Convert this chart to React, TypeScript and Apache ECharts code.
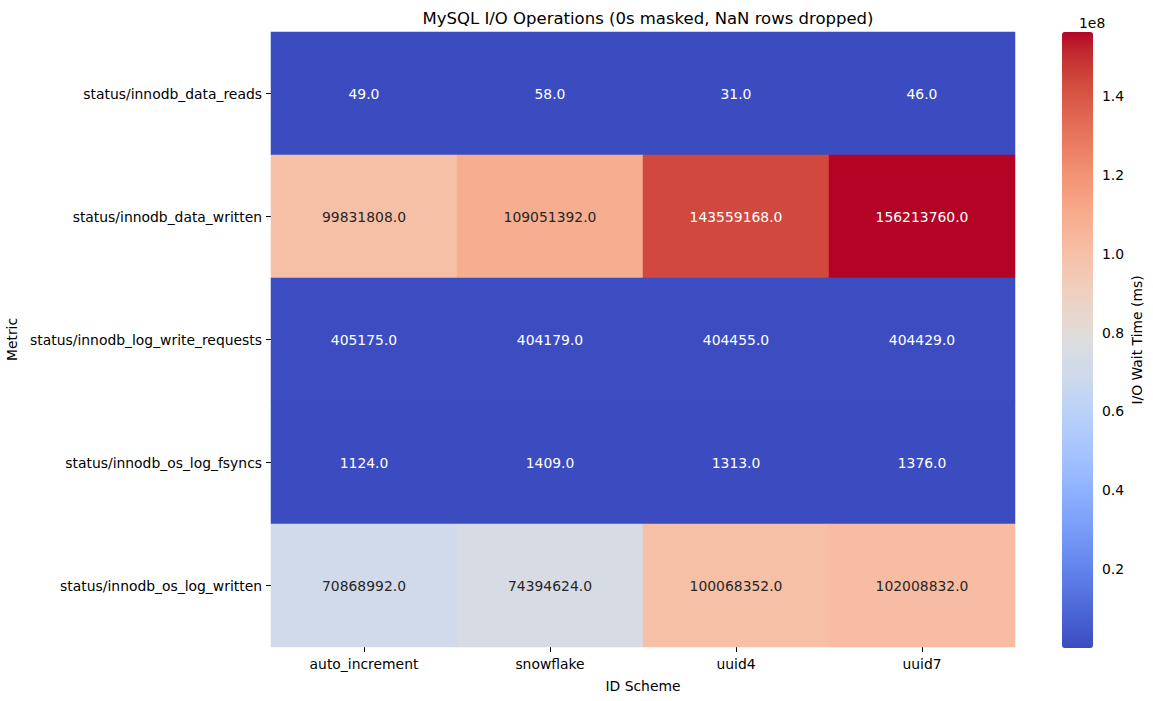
import React, { useEffect, useRef } from "react";
import * as echarts from "echarts";

const schemes = ["auto_increment", "snowflake", "uuid4", "uuid7"];
const metrics = [
  "status/innodb_data_reads",
  "status/innodb_data_written",
  "status/innodb_log_write_requests",
  "status/innodb_os_log_fsyncs",
  "status/innodb_os_log_written",
];
const dataReads = [49, 58, 31, 46];
const dataWritten = [99831808, 109051392, 143559168, 156213760];
const logWriteRequests = [405175, 404179, 404455, 404429];
const osLogFsyncs = [1124, 1409, 1313, 1376];
const osLogWritten = [70868992, 74394624, 100068352, 102008832];
const rows = [dataReads, dataWritten, logWriteRequests, osLogFsyncs, osLogWritten];
const colorbarTicks = [0.2, 0.4, 0.6, 0.8, 1.0, 1.2, 1.4];

const coolwarm = [
  [59, 76, 192], [68, 90, 204], [77, 104, 215], [87, 117, 225], [98, 130, 234],
  [108, 142, 241], [119, 154, 247], [130, 165, 251], [141, 176, 254], [152, 185, 255],
  [163, 194, 255], [174, 201, 253], [184, 208, 249], [194, 213, 244], [204, 217, 238],
  [213, 219, 230], [221, 221, 221], [229, 216, 209], [236, 211, 197], [241, 204, 185],
  [245, 196, 173], [247, 187, 160], [247, 177, 148], [247, 166, 135], [244, 154, 123],
  [241, 141, 111], [236, 127, 99], [229, 112, 88], [222, 96, 77], [213, 80, 66],
  [203, 62, 56], [192, 40, 47], [180, 4, 38],
];

const FONT = "DejaVu Sans";

export default function App() {
  const ref = useRef<HTMLDivElement>(null);
  useEffect(() => {
    if (!ref.current) return;
    const chart = echarts.init(ref.current, null, { renderer: "svg" });
    const all = rows.flat();
    const vmin = Math.min(...all);
    const vmax = Math.max(...all);

    const sample = (v: number) => {
      const t = (v - vmin) / (vmax - vmin);
      const p = t * (coolwarm.length - 1);
      const i = Math.min(Math.floor(p), coolwarm.length - 2);
      const f = p - i;
      return coolwarm[i].map((c, k) => c + (coolwarm[i + 1][k] - c) * f);
    };
    const lum = (rgb: number[]) => {
      const lin = rgb.map((c) => {
        const s = c / 255;
        return s <= 0.03928 ? s / 12.92 : Math.pow((s + 0.055) / 1.055, 2.4);
      });
      return 0.2126 * lin[0] + 0.7152 * lin[1] + 0.0722 * lin[2];
    };

    const data: any[] = [];
    rows.forEach((r, yi) =>
      r.forEach((v, xi) => {
        const light = lum(sample(v)) > 0.408;
        data.push({
          value: [xi, yi, v],
          label: { color: light ? "#262626" : "#ffffff" },
        });
      })
    );

    chart.setOption({
      animation: false,
      backgroundColor: "#ffffff",
      textStyle: { fontFamily: FONT },
      title: {
        text: "MySQL I/O Operations (0s masked, NaN rows dropped)",
        left: 643,
        textAlign: "center",
        top: 5,
        textStyle: { fontFamily: FONT, fontSize: 16.5, fontWeight: "normal", color: "#000" },
      },
      grid: [
        { left: 271, top: 32, width: 744, height: 615, outerBoundsMode: "none", containLabel: false },
        { left: 1062, top: 32, width: 31, height: 616, outerBoundsMode: "none", containLabel: false },
      ],
      xAxis: [
        {
          type: "category",
          gridIndex: 0,
          data: schemes,
          name: "ID Scheme",
          nameLocation: "middle",
          nameGap: 32,
          nameTextStyle: { fontFamily: FONT, fontSize: 13.9, color: "#000" },
          axisLine: { show: false },
          axisTick: { show: true, alignWithLabel: true, length: 5, lineStyle: { color: "#000", width: 1 } },
          axisLabel: { fontFamily: FONT, fontSize: 13.9, color: "#000", margin: 10 },
          splitLine: { show: false },
        },
        { type: "value", gridIndex: 1, show: false, min: 0, max: 1 },
      ],
      yAxis: [
        {
          type: "category",
          gridIndex: 0,
          data: metrics,
          inverse: true,
          name: "Metric",
          nameLocation: "middle",
          nameGap: 247,
          nameRotate: 90,
          nameTextStyle: { fontFamily: FONT, fontSize: 13.9, color: "#000" },
          axisLine: { show: false },
          axisTick: { show: true, alignWithLabel: true, length: 5, lineStyle: { color: "#000", width: 1 } },
          axisLabel: { fontFamily: FONT, fontSize: 13.9, color: "#000", margin: 9 },
          splitLine: { show: false },
        },
        {
          type: "value",
          gridIndex: 1,
          position: "right",
          min: 0,
          max: vmax,
          interval: 2e7,
          name: "I/O Wait Time (ms)",
          nameLocation: "middle",
          nameGap: 37,
          nameRotate: 90,
          nameTextStyle: { fontFamily: FONT, fontSize: 13.9, color: "#000" },
          axisLine: { show: false },
          axisTick: { show: true, length: 5, lineStyle: { color: "#000", width: 1 } },
          axisLabel: {
            fontFamily: FONT,
            fontSize: 13.9,
            color: "#000",
            margin: 9,
            showMinLabel: false,
            showMaxLabel: false,
            formatter: (v: number) => {
              const t = Math.round(v / 1e7) / 10;
              return colorbarTicks.includes(t) ? t.toFixed(1) : "";
            },
          },
          splitLine: { show: false },
        },
      ],
      visualMap: {
        type: "continuous",
        min: vmin,
        max: vmax,
        seriesIndex: 0,
        calculable: false,
        showLabel: false,
        text: ["", ""],
        itemWidth: 31,
        itemHeight: 616,
        left: 1062,
        top: 32,
        padding: 0,
        inRange: { color: coolwarm.map((c) => `rgb(${c[0]},${c[1]},${c[2]})`) },
      },
      graphic: [
        {
          type: "text",
          left: 1079,
          top: 16,
          style: { text: "1e8", font: `13.9px ${FONT}`, fill: "#000", textAlign: "center" },
        },
      ],
      series: [
        {
          type: "heatmap",
          xAxisIndex: 0,
          yAxisIndex: 0,
          data,
          itemStyle: { borderWidth: 0 },
          label: {
            show: true,
            fontFamily: FONT,
            fontSize: 13.9,
            formatter: (p: any) => Number(p.value[2]).toFixed(1),
          },
          emphasis: { disabled: true },
        },
      ],
    });
    return () => chart.dispose();
  }, []);
  return (
    <div
      ref={ref}
      style={{ position: "fixed", left: 0, top: 0, width: 1153, height: 701 }}
    />
  );
}
